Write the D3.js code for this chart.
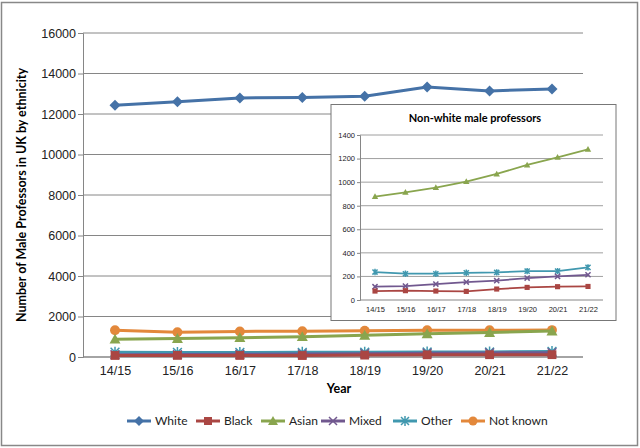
<!DOCTYPE html>
<html>
<head>
<meta charset="utf-8">
<script src="https://cdn.jsdelivr.net/npm/d3@7"></script>
<style>
body{margin:0;background:#fff;}
svg{font-family:Lato,"Liberation Sans",sans-serif;}
</style>
</head>
<body>
<div id="vis"></div>
<script>
var years = ["14/15","15/16","16/17","17/18","18/19","19/20","20/21","21/22"];
var white = [12430,12610,12790,12820,12880,13330,13140,13240];
var black = [76,79,76,73,93,107,113,115];
var asian = [878,914,954,1005,1070,1146,1211,1279];
var mixed = [113,118,135,152,164,186,200,214];
var other = [237,223,223,231,234,245,245,277];
var notKnown = [1318,1222,1265,1268,1295,1318,1320,1328];
var mainTicks = [0,2000,4000,6000,8000,10000,12000,14000,16000];
var insetTicks = [0,200,400,600,800,1000,1200,1400];

function init(){
	var width = 640, height = 448;
	var svg = d3.select("#vis").append("svg")
				.attr("width", width)
				.attr("height", height);

	svg.append("rect")
		.attr("x", 1.5).attr("y", 2.5)
		.attr("width", 636).attr("height", 443)
		.attr("fill", "white").attr("stroke", "#888").attr("stroke-width", 1.5);

	var series = [
		{name:"White", values:white, color:"#4572A7", shape:"diamond"},
		{name:"Black", values:black, color:"#AA4643", shape:"square"},
		{name:"Asian", values:asian, color:"#89A54E", shape:"triangle"},
		{name:"Mixed", values:mixed, color:"#71588F", shape:"cross"},
		{name:"Other", values:other, color:"#4198AF", shape:"star"},
		{name:"Not known", values:notKnown, color:"#E3883B", shape:"circle"}
	];

	//draw a marker of a given shape and size
	function marker(g, shape, color, s){
		if(shape == "diamond"){
			g.append("path").attr("d", "M0,"+(-s)+"L"+s+",0L0,"+s+"L"+(-s)+",0Z").attr("fill", color);
		}else if(shape == "square"){
			g.append("rect").attr("x", -s*0.8).attr("y", -s*0.8).attr("width", s*1.6).attr("height", s*1.6).attr("fill", color);
		}else if(shape == "triangle"){
			g.append("path").attr("d", "M0,"+(-s)+"L"+s+","+(s*0.8)+"L"+(-s)+","+(s*0.8)+"Z").attr("fill", color);
		}else if(shape == "cross"){
			g.append("path").attr("d", "M"+(-s*0.8)+","+(-s*0.8)+"L"+(s*0.8)+","+(s*0.8)+"M"+(-s*0.8)+","+(s*0.8)+"L"+(s*0.8)+","+(-s*0.8))
				.attr("stroke", color).attr("stroke-width", 1.5);
		}else if(shape == "star"){
			g.append("path").attr("d", "M"+(-s*0.8)+","+(-s*0.8)+"L"+(s*0.8)+","+(s*0.8)+"M"+(-s*0.8)+","+(s*0.8)+"L"+(s*0.8)+","+(-s*0.8)+"M0,"+(-s)+"L0,"+s)
				.attr("stroke", color).attr("stroke-width", 1.5);
		}else{
			g.append("circle").attr("r", s*0.9).attr("fill", color);
		}
	}

	//main chart
	var x = d3.scalePoint().domain(years).range([115, 552]);
	var y = d3.scaleLinear().domain([0,16000]).range([357, 33]);

	svg.selectAll("line.grid").data(mainTicks.slice(1)).enter()
		.append("line")
		.attr("x1", 83).attr("x2", 583)
		.attr("y1", d => y(d)).attr("y2", d => y(d))
		.attr("stroke", "#868686").attr("stroke-width", 1);

	var yAxis = svg.append("g")
		.attr("transform", "translate(83,0)")
		.call(d3.axisLeft(y).tickValues(mainTicks).tickSize(5).tickPadding(2).tickFormat(d3.format("d")));
	yAxis.select(".domain").attr("stroke", "#868686");
	yAxis.selectAll(".tick line").attr("stroke", "#868686");
	yAxis.selectAll("text").style("font-size", "12.5px").attr("fill", "#222");

	var xAxis = svg.append("g")
		.attr("transform", "translate(0,357)")
		.call(d3.axisBottom(x).tickSize(0).tickPadding(9));
	xAxis.select(".domain").attr("d", "M83,0H583").attr("stroke", "#868686").attr("stroke-width", 1.5);
	xAxis.selectAll("text").style("font-size", "12.5px").attr("fill", "#222");

	svg.append("text")
		.attr("transform", "translate(26,195) rotate(-90)")
		.attr("text-anchor", "middle")
		.style("font-size", "12.5px").style("font-weight", "bold")
		.text("Number of Male Professors in UK by ethnicity");

	svg.append("text")
		.attr("x", 339).attr("y", 393)
		.attr("text-anchor", "middle")
		.style("font-size", "12.5px").style("font-weight", "bold")
		.text("Year");

	var line = d3.line().x((d,i) => x(years[i])).y(d => y(d));

	series.slice().reverse().forEach(function(s){
		svg.append("path")
			.attr("d", line(s.values))
			.attr("fill", "none")
			.attr("stroke", s.color)
			.attr("stroke-width", 3);
		s.values.forEach(function(v, i){
			var g = svg.append("g").attr("transform", "translate(" + x(years[i]) + "," + y(v) + ")");
			marker(g, s.shape, s.color, 5.5);
		});
	});

	//inset chart
	var inset = svg.append("g");
	inset.append("rect")
		.attr("x", 331).attr("y", 104.5)
		.attr("width", 285).attr("height", 216)
		.attr("fill", "white").attr("stroke", "#777").attr("stroke-width", 1);

	inset.append("text")
		.attr("x", 475).attr("y", 122)
		.attr("text-anchor", "middle")
		.style("font-size", "11px").style("font-weight", "bold")
		.text("Non-white male professors");

	var xi = d3.scalePoint().domain(years).range([375, 588]);
	var yi = d3.scaleLinear().domain([0,1400]).range([300, 135]);

	inset.selectAll("line.grid").data(insetTicks.slice(1)).enter()
		.append("line")
		.attr("x1", 360).attr("x2", 603)
		.attr("y1", d => yi(d)).attr("y2", d => yi(d))
		.attr("stroke", "#868686").attr("stroke-width", 0.8);

	var yiAxis = inset.append("g")
		.attr("transform", "translate(360,0)")
		.call(d3.axisLeft(yi).tickValues(insetTicks).tickSize(3).tickPadding(2).tickFormat(d3.format("d")));
	yiAxis.select(".domain").attr("stroke", "#868686");
	yiAxis.selectAll(".tick line").attr("stroke", "#868686");
	yiAxis.selectAll("text").style("font-size", "7.5px").attr("fill", "#222");

	var xiAxis = inset.append("g")
		.attr("transform", "translate(0,300)")
		.call(d3.axisBottom(xi).tickSize(0).tickPadding(7));
	xiAxis.select(".domain").attr("d", "M360,0H603").attr("stroke", "#868686");
	xiAxis.selectAll("text").style("font-size", "7.5px").attr("fill", "#222");

	var linei = d3.line().x((d,i) => xi(years[i])).y(d => yi(d));
	series.slice(1, 5).reverse().forEach(function(s){
		inset.append("path")
			.attr("d", linei(s.values))
			.attr("fill", "none")
			.attr("stroke", s.color)
			.attr("stroke-width", 1.8);
		s.values.forEach(function(v, i){
			var g = inset.append("g").attr("transform", "translate(" + xi(years[i]) + "," + yi(v) + ")");
			marker(g, s.shape, s.color, 3.2);
		});
	});

	//legend
	var legendX = [139, 208, 273, 333, 405, 473];
	var legend = svg.selectAll("g.legend").data(series).enter()
		.append("g")
		.attr("transform", (d,i) => "translate(" + legendX[i] + ",421)");
	legend.append("line")
		.attr("x1", -12).attr("x2", 12)
		.attr("stroke", d => d.color).attr("stroke-width", 3);
	legend.each(function(d){
		marker(d3.select(this), d.shape, d.color, 5);
	});
	legend.append("text")
		.attr("x", 16).attr("y", 0).attr("dy", "0.35em")
		.style("font-size", "12px").attr("fill", "#222")
		.text(d => d.name);
}

window.onload = init;
</script>
</body>
</html>
